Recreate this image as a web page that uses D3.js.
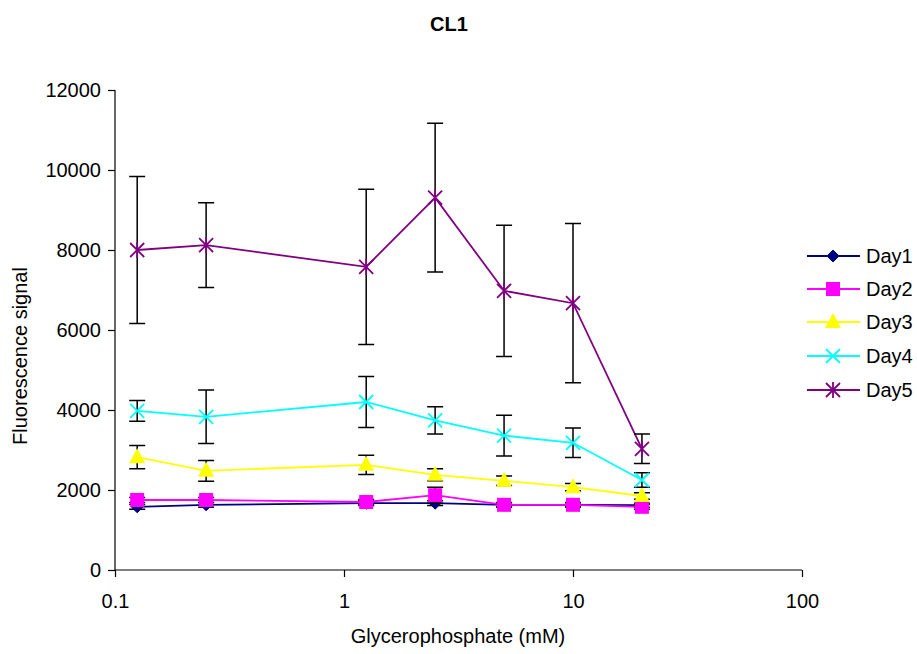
<!DOCTYPE html>
<html>
<head>
<meta charset="utf-8">
<script src="https://cdn.jsdelivr.net/npm/d3@7"></script>
<style>
  body { margin: 0; background: #fff; }
  svg { display: block; font-family: "Liberation Sans", Arial, sans-serif; }
</style>
</head>
<body>
<svg id="chart" width="917" height="654"></svg>
<script>
// Glycerophosphate concentrations (mM)
const concentrations = [0.125, 0.25, 1.25, 2.5, 5, 10, 20];

// Mean fluorescence per day
const day1 = [1580, 1630, 1670, 1670, 1630, 1630, 1620];
const day2 = [1750, 1750, 1700, 1870, 1630, 1630, 1580];
const day3 = [2820, 2480, 2630, 2380, 2230, 2070, 1850];
const day4 = [3980, 3830, 4200, 3740, 3360, 3180, 2250];
const day5 = [8000, 8120, 7580, 9310, 6980, 6670, 3030];

// Standard deviations per day
const day1Err = [60, 60, 60, 60, 50, 50, 50];
const day2Err = [60, 60, 60, 200, 60, 60, 60];
const day3Err = [290, 260, 240, 150, 120, 90, 80];
const day4Err = [260, 670, 640, 340, 510, 370, 180];
const day5Err = [1840, 1060, 1940, 1860, 1640, 1990, 370];

const seriesNames = ["Day1", "Day2", "Day3", "Day4", "Day5"];
const xTicks = [0.1, 1, 10, 100];
const yTicks = [0, 2000, 4000, 6000, 8000, 10000, 12000];

const series = [
  { name: seriesNames[0], values: day1, err: day1Err, color: "#000080", symbol: "diamond" },
  { name: seriesNames[1], values: day2, err: day2Err, color: "#FF00FF", symbol: "square" },
  { name: seriesNames[2], values: day3, err: day3Err, color: "#FFFF00", symbol: "triangle" },
  { name: seriesNames[3], values: day4, err: day4Err, color: "#00FFFF", symbol: "cross" },
  { name: seriesNames[4], values: day5, err: day5Err, color: "#800080", symbol: "star" }
];

const svg = d3.select("#chart");
const plotLeft = 115, plotRight = 802, plotTop = 90, plotBottom = 570;
const fontSize = 20;

const x = d3.scaleLog().domain([0.1, 100]).range([plotLeft, plotRight]);
const y = d3.scaleLinear().domain([0, 12000]).range([plotBottom, plotTop]);

// Title
svg.append("text").attr("x", 449).attr("y", 31)
  .attr("text-anchor", "middle").attr("font-size", 20).attr("font-weight", "bold")
  .text("CL1");

// Axes
const yAxis = d3.axisLeft(y).tickValues(yTicks).tickSize(7).tickPadding(7).tickFormat(d3.format("d"));
const gy = svg.append("g").attr("transform", `translate(${plotLeft},0)`).call(yAxis);
const xAxis = d3.axisBottom(x).tickValues(xTicks).tickSize(7).tickPadding(17)
  .tickFormat(d => String(d));
const gx = svg.append("g").attr("transform", `translate(0,${plotBottom})`).call(xAxis);

[gx, gy].forEach(g => {
  g.select(".domain").attr("stroke", "#000").attr("stroke-width", 1.2);
  g.selectAll(".tick line").attr("stroke", "#000").attr("stroke-width", 1.2);
  g.selectAll(".tick text").attr("font-size", fontSize).attr("fill", "#000")
    .attr("font-family", "Liberation Sans, Arial, sans-serif");
});
gy.select(".domain").attr("d", `M0,${plotBottom}V${plotTop}`);
gx.select(".domain").attr("d", `M${plotLeft},0H${plotRight}`);

// Axis titles
svg.append("text").attr("x", 458).attr("y", 643)
  .attr("text-anchor", "middle").attr("font-size", fontSize)
  .text("Glycerophosphate (mM)");
svg.append("text")
  .attr("transform", `translate(27,${356}) rotate(-90)`)
  .attr("text-anchor", "middle").attr("font-size", fontSize)
  .text("Fluorescence signal");

// Marker drawing
function drawMarker(g, symbol, color, cx, cy) {
  if (symbol === "diamond") {
    g.append("path").attr("d", `M${cx},${cy - 6}L${cx + 6},${cy}L${cx},${cy + 6}L${cx - 6},${cy}Z`)
      .attr("fill", color).attr("stroke", color);
  } else if (symbol === "square") {
    g.append("rect").attr("x", cx - 7).attr("y", cy - 7).attr("width", 14).attr("height", 14)
      .attr("fill", color);
  } else if (symbol === "triangle") {
    g.append("path").attr("d", `M${cx},${cy - 9}L${cx + 8},${cy + 6}L${cx - 8},${cy + 6}Z`)
      .attr("fill", color);
  } else if (symbol === "cross") {
    g.append("path").attr("d", `M${cx - 7},${cy - 7}L${cx + 7},${cy + 7}M${cx - 7},${cy + 7}L${cx + 7},${cy - 7}`)
      .attr("stroke", color).attr("stroke-width", 1.8).attr("fill", "none");
  } else if (symbol === "star") {
    g.append("path").attr("d", `M${cx - 7},${cy - 7}L${cx + 7},${cy + 7}M${cx - 7},${cy + 7}L${cx + 7},${cy - 7}M${cx},${cy - 8}V${cy + 8}`)
      .attr("stroke", color).attr("stroke-width", 1.8).attr("fill", "none");
  }
}

const line = d3.line().x(d => x(d[0])).y(d => y(d[1]));

series.forEach(s => {
  const g = svg.append("g");
  const pts = concentrations.map((c, i) => [c, s.values[i], s.err[i]]);
  g.append("path").datum(pts).attr("d", line)
    .attr("fill", "none").attr("stroke", s.color).attr("stroke-width", 1.8);
  // error bars
  pts.forEach(p => {
    const cx = x(p[0]);
    const y1 = y(p[1] + p[2]), y2 = y(p[1] - p[2]);
    g.append("path")
      .attr("d", `M${cx},${y1}V${y2}M${cx - 8},${y1}H${cx + 8}M${cx - 8},${y2}H${cx + 8}`)
      .attr("stroke", "#000").attr("stroke-width", 1.5).attr("fill", "none");
  });
  pts.forEach(p => drawMarker(g, s.symbol, s.color, x(p[0]), y(p[1])));
});

// Legend
const legend = svg.append("g");
const legendY = [256, 289, 322, 356, 390];
series.forEach((s, i) => {
  const ly = legendY[i];
  legend.append("line").attr("x1", 807).attr("x2", 860).attr("y1", ly).attr("y2", ly)
    .attr("stroke", s.color).attr("stroke-width", 1.8);
  drawMarker(legend, s.symbol, s.color, 833, ly);
  legend.append("text").attr("x", 866).attr("y", ly + 7).attr("font-size", fontSize).text(s.name);
});
</script>
</body>
</html>
